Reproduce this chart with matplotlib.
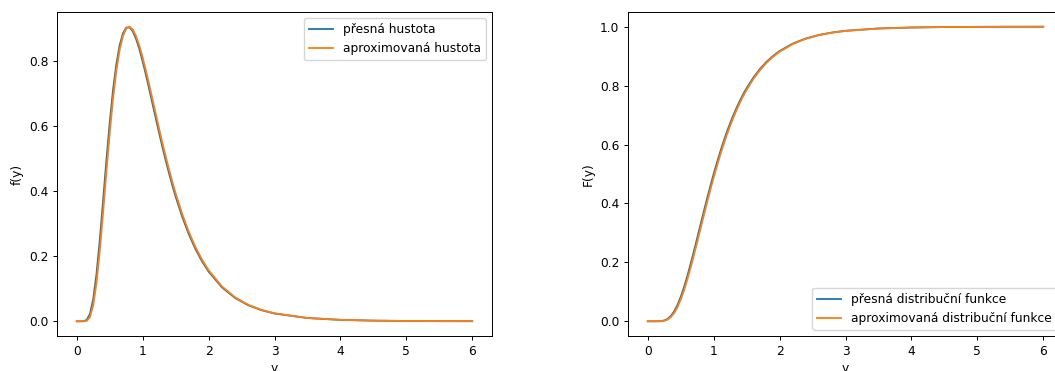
import matplotlib
matplotlib.use("Agg")
import matplotlib.pyplot as plt

# values
y_grid = [0, 0.05, 0.1, 0.15, 0.2, 0.25, 0.3, 0.35, 0.4, 0.45, 0.5, 0.55, 0.6, 0.65,
          0.7, 0.75, 0.8, 0.85, 0.9, 0.95, 1.0, 1.05, 1.1, 1.15, 1.2, 1.25, 1.3, 1.35,
          1.4, 1.45, 1.5, 1.6, 1.7, 1.8, 1.9, 2.0, 2.2, 2.4, 2.6, 2.8, 3.0, 3.5, 4.0,
          4.5, 5.0, 5.5, 6.0]

pdf_exact = [0, 0, 0.0002, 0.0040, 0.0224, 0.0684, 0.1464, 0.2515, 0.3721, 0.4953,
             0.6104, 0.7098, 0.7891, 0.8469, 0.8838, 0.9016, 0.9028, 0.8904, 0.8671,
             0.8355, 0.7979, 0.7563, 0.7123, 0.6672, 0.6221, 0.5778, 0.5348, 0.4936,
             0.4544, 0.4175, 0.3829, 0.3206, 0.2672, 0.2221, 0.1842, 0.1526, 0.1046,
             0.0718, 0.0494, 0.0342, 0.0238, 0.0099, 0.0043, 0.0019, 0.0009, 0.0004,
             0.0002]

pdf_approx = [0, 0, 0.0000, 0.0010, 0.0128, 0.0498, 0.1189, 0.2176, 0.3355, 0.4596,
              0.5782, 0.6830, 0.7685, 0.8327, 0.8756, 0.8987, 0.9045, 0.8958, 0.8753,
              0.8459, 0.8098, 0.7691, 0.7257, 0.6807, 0.6355, 0.5909, 0.5474, 0.5056,
              0.4658, 0.4283, 0.3929, 0.3293, 0.2746, 0.2283, 0.1894, 0.1570, 0.1076,
              0.0739, 0.0508, 0.0352, 0.0245, 0.0102, 0.0044, 0.0020, 0.0009, 0.0004,
              0.0002]

cdf_exact = [0, 0, 0, 0.0001, 0.0006, 0.0028, 0.0080, 0.0179, 0.0334, 0.0551, 0.0828,
             0.1159, 0.1535, 0.1945, 0.2378, 0.2825, 0.3277, 0.3726, 0.4166, 0.4591,
             0.5000, 0.5389, 0.5756, 0.6101, 0.6423, 0.6723, 0.7001, 0.7258, 0.7495,
             0.7713, 0.7913, 0.8264, 0.8557, 0.8801, 0.9004, 0.9172, 0.9426, 0.9600,
             0.9720, 0.9803, 0.9860, 0.9939, 0.9972, 0.9987, 0.9994, 0.9997, 0.9998]

cdf_approx = [0, 0, 0, 0.0000, 0.0003, 0.0018, 0.0058, 0.0141, 0.0278, 0.0477, 0.0737,
              0.1053, 0.1416, 0.1818, 0.2246, 0.2690, 0.3141, 0.3592, 0.4036, 0.4466,
              0.4880, 0.5275, 0.5649, 0.6001, 0.6330, 0.6637, 0.6921, 0.7184, 0.7427,
              0.7650, 0.7856, 0.8216, 0.8517, 0.8768, 0.8976, 0.9149, 0.9410, 0.9589,
              0.9713, 0.9798, 0.9856, 0.9937, 0.9971, 0.9987, 0.9993, 0.9997, 0.9998]

# reference looks like a default figure shrunk by roughly 0.88
s = 0.88
plt.rcParams.update({
    'font.size': 10 * s,
    'lines.linewidth': 1.5 * s,
    'axes.linewidth': 0.8 * s,
    'axes.labelpad': 4 * s,
    'xtick.major.size': 3.5 * s,
    'ytick.major.size': 3.5 * s,
    'xtick.major.width': 0.8 * s,
    'ytick.major.width': 0.8 * s,
    'xtick.major.pad': 3.5 * s,
    'ytick.major.pad': 3.5 * s,
})

W, H = 1055, 371
fig = plt.figure(figsize=(W / 100, H / 100), dpi=100)

# the right panel runs past the right edge of the picture, as in the reference
ax1 = fig.add_axes([57 / W, (H - 336) / H, 435 / W, 324 / H])
ax2 = fig.add_axes([628 / W, (H - 336) / H, 435 / W, 324 / H])

ax1.plot(y_grid, pdf_exact, label='přesná hustota')
ax1.plot(y_grid, pdf_approx, label='aproximovaná hustota')
ax1.set_xlabel('y')
ax1.set_ylabel('f(y)')
ax1.legend(loc='upper right')

ax2.plot(y_grid, cdf_exact, label='přesná distribuční funkce')
ax2.plot(y_grid, cdf_approx, label='aproximovaná distribuční funkce')
ax2.set_xlabel('y')
ax2.set_ylabel('F(y)')
ax2.legend(loc='lower right')

fig.savefig('out.png', dpi=100)
